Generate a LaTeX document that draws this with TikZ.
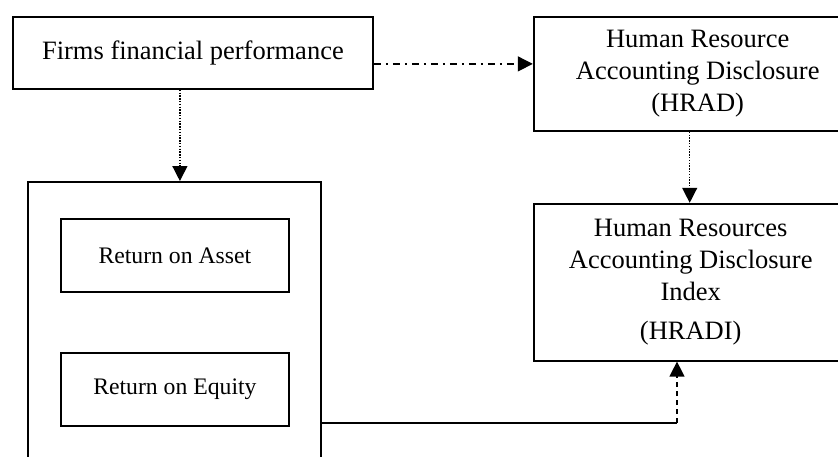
\documentclass[tikz,border=0pt]{standalone}
\usepackage{fontspec}
\setmainfont{Liberation Serif}
\usetikzlibrary{arrows.meta,positioning}
\tikzstyle{arrow} = [line width=1.3pt,-{Triangle[width=15pt,length=15pt]}]
\tikzstyle{framebox} = [rectangle, draw=black, line width=1.8pt, inner sep=0pt, align=center, font=\fontsize{26.5}{32}\selectfont]
\tikzstyle{itembox} = [rectangle, draw=black, line width=1.8pt, minimum width=228pt, minimum height=73pt, inner sep=0pt, font=\fontsize{23.7}{28}\selectfont]
\tikzstyle{dotline} = [dash pattern=on 1.4pt off 1.4pt]
\tikzstyle{dashdotline} = [dash pattern=on 7pt off 5pt on 2pt off 5pt]
\tikzstyle{dashline} = [dash pattern=on 5pt off 4pt]

\begin{document}
\begin{tikzpicture}[x=1pt,y=1pt]
\useasboundingbox (0,0) rectangle (838,-456);
\clip (0,0) rectangle (838,-456);
% Performance
\node[framebox, minimum width=360pt, minimum height=72pt, anchor=north west] (firms) at (12,-16) {Firms financial performance};
% Disclosure boxes
\node[framebox, right=159pt of firms.north east, anchor=north west, minimum width=328pt, minimum height=114pt] (hrad) {Human Resource\\Accounting Disclosure\\(HRAD)};
\node[framebox, below=71pt of hrad.south west, anchor=north west, minimum width=314pt, minimum height=157pt] (hradi) {Human Resources\\Accounting Disclosure\\Index\\[7pt](HRADI)};
% Measures
\node[framebox, minimum width=293pt, minimum height=300pt, anchor=north west] (perf) at (27,-181) {};
\node[itembox, anchor=north west] (roa) at (60,-218) {Return on Asset};
\node[itembox, below=59pt of roa] (roe) {Return on Equity};

\draw[arrow, dashdotline] ([yshift=-11pt]firms.east) -- ([yshift=-11pt]firms.east -| hrad.west);
\draw[arrow, dotline] ([xshift=-13pt]firms.south) -- ([xshift=-13pt]firms.south |- perf.north);
\draw[arrow, dotline] ([xshift=-8pt]hrad.south) -- ([xshift=-8pt]hrad.south |- hradi.north);
\coordinate (bend) at (677,-423);
\draw[line width=1.3pt] (perf.east |- bend) -- (bend);
\draw[arrow, dashline] (bend) -- (bend |- hradi.south);
\end{tikzpicture}
\end{document}
